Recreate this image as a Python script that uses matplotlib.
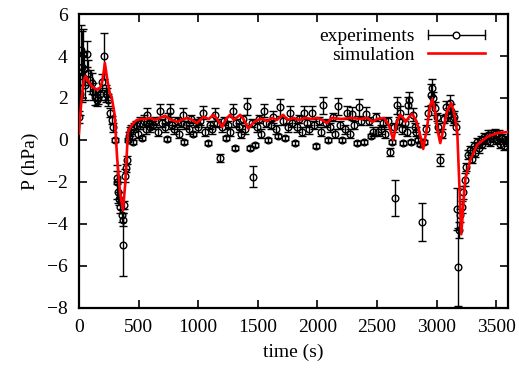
import matplotlib
matplotlib.use('Agg')
import matplotlib.pyplot as plt
from matplotlib.lines import Line2D
from matplotlib.legend_handler import HandlerBase

plt.rcParams['font.family'] = ['Liberation Serif', 'DejaVu Serif']
plt.rcParams['font.size'] = 14

# experimental points: time (s), pressure (hPa), error (hPa)
exp_t = [0, 10, 17, 25, 35, 45, 55, 70, 80, 92, 108, 120, 134, 150, 160, 175, 190, 210, 225, 235,
         245, 260, 275, 290, 300, 318, 320, 330, 337, 345, 360, 370, 372, 380, 386, 395, 403, 411, 420, 430,
         440, 453, 465, 480, 495, 510, 530, 545, 560, 570, 585, 600,
         620, 640, 660, 680, 700, 720, 735, 750, 765, 780, 800, 820, 840, 860, 875, 880, 900, 920,
         940, 960, 980, 1000, 1020, 1045, 1060, 1085, 1100, 1120, 1140, 1160, 1185, 1200, 1220, 1235, 1250, 1270,
         1295, 1310, 1320, 1340, 1360, 1380, 1395, 1410, 1435, 1450, 1460, 1478, 1490, 1510, 1530, 1550, 1570, 1590,
         1610, 1630, 1650, 1670, 1690, 1710, 1730, 1750, 1770, 1790, 1810, 1830, 1850, 1870, 1890, 1910, 1930, 1955,
         1970, 1990, 2010, 2030, 2050, 2070, 2090, 2110, 2130, 2150, 2170, 2190, 2210, 2230, 2250, 2270, 2290, 2310,
         2330, 2350, 2370, 2390, 2410, 2430, 2450, 2470, 2490, 2510, 2530, 2550, 2570, 2590,
         2610, 2628, 2640, 2653, 2670, 2685, 2695, 2710, 2720, 2735, 2750, 2760, 2770, 2785, 2800, 2815, 2830, 2845,
         2860, 2880, 2895, 2910, 2930, 2950, 2960, 2970, 2985, 3000, 3015, 3030, 3045, 3065, 3080, 3095, 3110, 3125,
         3140, 3150, 3160, 3174, 3182, 3190, 3200, 3210, 3222, 3235, 3250, 3265, 3280, 3295, 3310, 3325, 3340, 3355,
         3370, 3385, 3400, 3415, 3430, 3445, 3460, 3475, 3490, 3505, 3520, 3535, 3550, 3565, 3580, 3595]
exp_p = [1.1, 2.2, 4.3, 3.5, 4.1, 3.4, 2.6, 4.1, 3.2, 2.85, 2.7, 2.3, 2.05, 1.9, 2.0, 2.2, 2.76, 4.0, 2.2, 2.2,
         1.9, 1.3, 0.95, 0.6, 0.0, -2.0, -1.8, -2.5, -2.8, -3.2, -3.6, -3.8, -5.0, -3.1, -1.7, -1.35, -0.95, 0.0, 0.2, 0.4,
         0.5, -0.1, 0.6, 0.7, 0.3, 0.8, 0.1, 0.9, 0.5, 1.2, 0.8, 0.6,
         0.7, 0.9, 0.4, 1.4, 0.8, 0.6, 0.05, 1.0, 1.4, 0.7, 0.5, 0.9, 0.3, 0.8, 1.2, -0.1, 0.7, 0.5,
         1.0, 0.3, 0.8, 0.6, 0.9, 1.3, 0.4, -0.15, 0.7, 0.5, 1.2, 0.8, -0.87, 0.6, 0.9, 0.1, 0.7, 0.4,
         1.4, -0.4, 0.8, 0.6, 0.3, 1.0, 0.5, 1.6, -0.4, 0.8, -1.75, -0.25, 0.6, 1.0, 0.3, 1.4, 0.8, 0.0,
         0.7, 1.1, 0.5, 0.2, 1.55, 0.9, 0.1, 0.6, 1.3, 0.8, -0.15, 0.6, 1.0, 0.4, 1.3, 0.8, 0.5, 1.3,
         0.7, -0.3, 0.9, 0.4, 1.65, 0.8, 0.0, 0.6, 1.1, 0.3, 1.6, 0.7, 0.0, 0.5, 1.3, 0.3, 1.25, 0.7,
         -0.15, 1.55, 0.9, -0.1, 1.25, 0.9, 0.2, 0.4, 1.1, 0.4, 0.5, 0.8, 0.3, 0.9,
         -0.57, -0.1, 0.6, -2.77, 1.65, 0.9, 1.3, 0.5, -0.15, 0.8, 0.4, 1.65, 1.9, -0.1, 1.2, 0.6, 0.4, 0.0,
         -0.2, -3.9, -0.1, 0.5, 1.3, 2.15, 2.5, 2.0, 1.5, 1.1, 0.6, -0.95, 0.3, 1.0, 1.55, 1.2, 1.75, 1.4,
         1.0, 1.1, 0.6, -3.3, -6.05, -4.3, -3.6, -3.2, -2.5, -1.9, -1.3, -0.7, -0.5, -0.9, -0.3, -0.6, -0.1, -0.4,
         0.0, -0.2, 0.15, 0.0, 0.25, -0.1, 0.25, 0.1, 0.3, 0.0, 0.25, -0.2, 0.1, -0.3, 0.0, -0.1]
exp_err = [0.3, 1.0, 1.2, 1.7, 1.2, 0.8, 0.7, 0.6, 0.6, 0.5, 0.5, 0.4, 0.4, 0.3, 0.3, 0.3, 0.4, 1.1, 0.4, 0.3,
           0.3, 0.2, 0.2, 0.2, 0.1, 0.8, 0.3, 0.5, 0.3, 0.3, 0.3, 0.3, 1.5, 0.2, 0.3, 0.2, 0.2, 0.1, 0.2, 0.2,
           0.2, 0.1, 0.2, 0.2, 0.2, 0.3, 0.1, 0.3, 0.2, 0.3, 0.2, 0.2,
           0.2, 0.2, 0.2, 0.3, 0.2, 0.2, 0.1, 0.3, 0.3, 0.2, 0.2, 0.2, 0.2, 0.2, 0.3, 0.1, 0.2, 0.2,
           0.2, 0.1, 0.2, 0.2, 0.2, 0.3, 0.2, 0.1, 0.2, 0.2, 0.3, 0.2, 0.2, 0.2, 0.2, 0.1, 0.2, 0.2,
           0.3, 0.1, 0.2, 0.2, 0.2, 0.2, 0.2, 0.4, 0.1, 0.2, 0.5, 0.1, 0.2, 0.2, 0.2, 0.3, 0.2, 0.1,
           0.2, 0.3, 0.2, 0.1, 0.4, 0.2, 0.1, 0.2, 0.3, 0.2, 0.1, 0.2, 0.2, 0.2, 0.3, 0.2, 0.2, 0.3,
           0.2, 0.1, 0.2, 0.2, 0.4, 0.2, 0.1, 0.2, 0.2, 0.2, 0.4, 0.2, 0.1, 0.2, 0.3, 0.2, 0.3, 0.2,
           0.1, 0.4, 0.2, 0.1, 0.3, 0.2, 0.1, 0.2, 0.2, 0.2, 0.2, 0.2, 0.2, 0.2,
           0.2, 0.1, 0.2, 0.85, 0.4, 0.2, 0.3, 0.2, 0.1, 0.2, 0.2, 0.4, 0.4, 0.1, 0.3, 0.2, 0.2, 0.1,
           0.1, 0.9, 0.1, 0.2, 0.3, 0.5, 0.4, 0.3, 0.3, 0.2, 0.2, 0.3, 0.2, 0.2, 0.3, 0.3, 0.4, 0.3,
           0.3, 0.3, 0.3, 1.0, 1.85, 0.4, 0.3, 0.3, 0.3, 0.3, 0.2, 0.2, 0.2, 0.2, 0.2, 0.2, 0.2, 0.2,
           0.2, 0.2, 0.2, 0.2, 0.2, 0.2, 0.2, 0.2, 0.2, 0.2, 0.2, 0.2, 0.2, 0.2, 0.2, 0.2]

# simulation curve
sim_t = [0, 20, 40, 55, 80, 110, 150, 180, 200, 218, 240, 260, 275, 300, 320, 345, 370, 390, 405, 413,
         443, 485, 520, 560, 600, 640, 680, 722, 760, 822, 860, 906, 950, 990, 1045, 1090, 1127, 1160, 1200, 1235,
         1268, 1300, 1352, 1385, 1420, 1460, 1494, 1540, 1580, 1620, 1660, 1713, 1750, 1800, 1850, 1900, 1950, 2000,
         2040, 2080, 2120, 2200, 2280, 2360, 2420, 2460, 2500, 2560, 2600, 2637, 2670, 2695, 2720, 2740, 2770, 2796,
         2830, 2860, 2888, 2920, 2945, 2964, 2990, 3010, 3031, 3060, 3090, 3124, 3150, 3174, 3190, 3207, 3240, 3283,
         3340, 3425, 3510, 3600]
sim_p = [0.3, 1.8, 2.8, 3.05, 2.8, 2.55, 2.4, 2.5, 2.9, 3.67, 2.8, 2.2, 2.05, 1.2, -0.8, -2.5, -3.35, -2.0, -0.3, 0.4,
         0.7, 0.95, 1.0, 1.0, 1.05, 0.95, 1.05, 1.15, 1.0, 0.86, 0.95, 1.04, 0.95, 0.8, 1.1, 1.0, 1.2, 1.0, 0.62, 1.0,
         1.2, 0.95, 1.2, 0.95, 0.55, 0.8, 0.95, 1.0, 0.9, 1.05, 0.95, 1.2, 0.95, 1.05, 0.95, 1.05, 1.0, 1.05,
         0.95, 0.8, 1.05, 1.0, 1.05, 1.0, 1.05, 0.86, 1.0, 1.05, 0.7, 0.0, 0.9, 1.2, 1.05, 0.86, 1.1, 1.24,
         0.9, 0.3, -0.43, 0.6, 1.6, 1.95, 1.3, 0.4, -0.15, 0.6, 1.4, 1.76, 1.2, 0.33, -2.0, -4.5, -1.9, -0.95,
         -0.24, 0.15, 0.33, 0.38]


class ErrHandler(HandlerBase):
    # gnuplot style key sample: horizontal bar with caps and a circle
    def create_artists(self, legend, orig_handle, xdescent, ydescent, width, height, fontsize, trans):
        y = (height - ydescent) / 2
        x0, x1 = -xdescent, width - xdescent
        c = height * 0.35
        arts = [Line2D([x0, x1], [y, y], color='black', lw=1),
                Line2D([x0, x0], [y - c, y + c], color='black', lw=1),
                Line2D([x1, x1], [y - c, y + c], color='black', lw=1),
                Line2D([(x0 + x1) / 2], [y], marker='o', ms=4.8, mfc='white', mec='black', mew=1.0, lw=0)]
        for a in arts:
            a.set_transform(trans)
        return arts


fig = plt.figure(figsize=(5.19, 3.72), dpi=100)
ax = fig.add_axes([0.152, 0.173, 0.827, 0.789])

ax.errorbar(exp_t, exp_p, yerr=exp_err, fmt='o', ms=4.8, mfc='none', mec='black', mew=1.0,
            ecolor='black', elinewidth=1.0, capsize=2.8, capthick=1.0, zorder=2)
sim_line, = ax.plot(sim_t, sim_p, color='#ff0000', lw=1.9, zorder=3)

exp_handle = Line2D([], [], color='black')
ax.legend([exp_handle, sim_line], ['experiments', 'simulation'], handler_map={exp_handle: ErrHandler()},
          loc='upper right', frameon=False, markerfirst=False, handlelength=2.9, handletextpad=0.7,
          labelspacing=0.05, borderaxespad=0.3, bbox_to_anchor=(0.977, 1.0))

ax.set_xlim(0, 3600)
ax.set_ylim(-8, 6)
ax.set_xticks([0, 500, 1000, 1500, 2000, 2500, 3000, 3500])
ax.set_yticks([-8, -6, -4, -2, 0, 2, 4, 6])
ax.tick_params(direction='in', length=6, width=1.2, top=True, right=True, pad=8)
for s in ax.spines.values():
    s.set_linewidth(1.6)
ax.set_xlabel('time (s)', labelpad=6)
ax.set_ylabel('P (hPa)', labelpad=6)

fig.savefig('out.png', dpi=100)
